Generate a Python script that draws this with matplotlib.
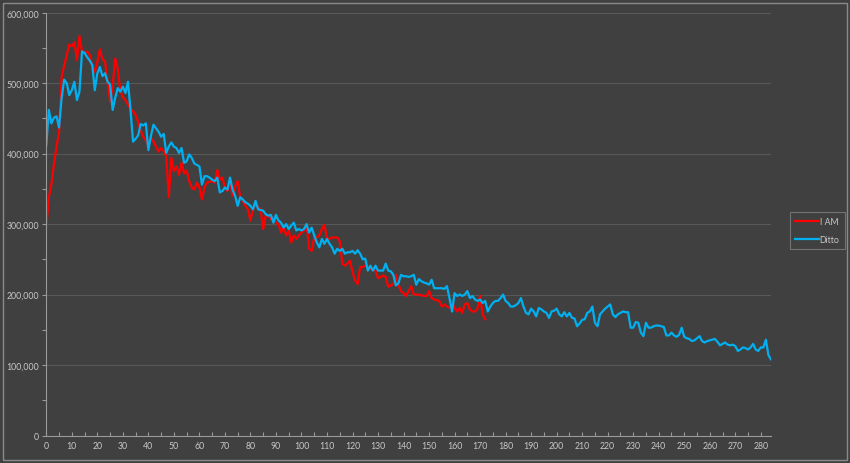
import numpy as np
import matplotlib
matplotlib.use("Agg")
import matplotlib.pyplot as plt
from matplotlib.ticker import FuncFormatter, MultipleLocator

series_names = ["I AM", "Ditto"]

# values in thousands
i_am_k = [
    296, 338, 357, 385, 410, 430, 508, 525, 540, 555,
    552, 558, 533, 567, 545, 543, 545, 540, 525, 516,
    530, 548, 534, 531, 502, 474, 495, 535, 520, 490,
    480, 476, 470, 464, 460, 455, 445, 433, 424, 419,
    412, 422, 417, 410, 403, 408, 404, 396, 338, 394,
    375, 382, 370, 387, 372, 376, 361, 352, 349, 359,
    352, 335, 352, 359, 360, 361, 359, 377, 363, 366,
    352, 347, 363, 340, 354, 361, 338, 333, 326, 321,
    305, 321, 328, 324, 321, 293, 312, 312, 307, 310,
    302, 300, 288, 295, 284, 291, 274, 284, 279, 284,
    288, 291, 300, 265, 262, 281, 281, 284, 293, 299,
    279, 279, 281, 281, 281, 276, 244, 241, 244, 248,
    232, 220, 215, 239, 239, 241, 237, 237, 237, 234,
    223, 225, 227, 225, 211, 213, 215, 228, 214, 205,
    202, 198, 205, 212, 200, 200, 200, 199, 198, 198,
    205, 195, 193, 192, 191, 183, 186, 183, 181, 188,
    181, 176, 181, 174, 186, 188, 179, 176, 176, 180,
    198, 172, 165,
]

ditto_k = [
    412, 462, 443, 451, 453, 437, 479, 505, 500, 483,
    490, 502, 476, 488, 545, 543, 537, 532, 526, 490,
    514, 523, 510, 514, 502, 498, 462, 479, 493, 488,
    495, 486, 502, 462, 417, 421, 426, 442, 440, 443,
    405, 425, 441, 436, 431, 424, 428, 401, 410, 416,
    410, 408, 401, 408, 387, 389, 399, 394, 386, 384,
    382, 356, 368, 368, 366, 363, 361, 366, 345, 347,
    352, 349, 366, 349, 340, 326, 338, 335, 331, 329,
    326, 321, 333, 321, 320, 319, 314, 312, 313, 302,
    313, 305, 302, 295, 300, 293, 298, 302, 291, 293,
    291, 293, 300, 288, 295, 284, 274, 267, 279, 272,
    279, 272, 267, 258, 265, 262, 265, 258, 260, 260,
    262, 258, 263, 258, 250, 251, 234, 241, 234, 241,
    234, 234, 234, 244, 234, 233, 228, 213, 216, 228,
    226, 226, 225, 226, 228, 214, 222, 219, 217, 216,
    214, 221, 209, 209, 209, 209, 208, 212, 195, 176,
    202, 198, 200, 198, 200, 205, 195, 198, 193, 191,
    193, 188, 191, 176, 183, 188, 191, 191, 195, 200,
    191, 188, 183, 183, 185, 188, 195, 183, 174, 172,
    180, 176, 169, 181, 179, 176, 174, 167, 176, 177,
    180, 172, 169, 175, 169, 174, 167, 166, 155, 159,
    164, 165, 174, 176, 183, 160, 155, 172, 176, 180,
    183, 186, 172, 168, 172, 174, 176, 175, 175, 153,
    153, 161, 160, 146, 141, 160, 153, 153, 155, 156,
    156, 155, 154, 142, 142, 146, 142, 140, 143, 153,
    140, 138, 137, 134, 135, 138, 141, 134, 132, 134,
    135, 136, 137, 133, 128, 130, 132, 129, 128, 129,
    127, 120, 122, 125, 124, 122, 125, 130, 122, 120,
    125, 125, 136, 114, 108,
]

x_ticks = list(range(0, 281, 10))
y_ticks = [0, 100000, 200000, 300000, 400000, 500000, 600000]

i_am = np.array(i_am_k) * 1000
ditto = np.array(ditto_k) * 1000

BG = "#404040"
TXT = "#c8c8c8"
AXC = "#9a9a9a"
GRID = "#585858"

plt.rcParams['font.family'] = ['Lato', 'DejaVu Sans']

fig = plt.figure(figsize=(8.5, 4.64), dpi=100, facecolor=BG)
ax = fig.add_axes([46.3 / 850, 1 - 436.5 / 464, (771 - 46.3) / 850, (436.5 - 13.7) / 464])
ax.set_facecolor(BG)

ax.plot(np.arange(len(i_am)), i_am, color="#ff0000", lw=1.6, label=series_names[0],
        solid_joinstyle="round")
ax.plot(np.arange(len(ditto)), ditto, color="#00b0f0", lw=1.6, label=series_names[1],
        solid_joinstyle="round")

ax.set_xlim(0, 284)
ax.set_ylim(0, 600000)
ax.set_xticks(x_ticks)
ax.xaxis.set_minor_locator(MultipleLocator(5))
ax.set_yticks(y_ticks)
ax.yaxis.set_minor_locator(MultipleLocator(50000))
ax.yaxis.set_major_formatter(FuncFormatter(lambda v, p: f"{int(v):,}"))

ax.grid(axis="y", which="major", color=GRID, lw=0.8)
ax.set_axisbelow(True)
for s in ["top", "right"]:
    ax.spines[s].set_visible(False)
for s in ["left", "bottom"]:
    ax.spines[s].set_color(AXC)
    ax.spines[s].set_linewidth(0.8)

ax.tick_params(axis="x", which="both", direction="in", color=AXC, length=3, width=0.8,
               labelcolor=TXT, labelsize=6.3, pad=4)
ax.tick_params(axis="y", which="both", direction="out", color=AXC, length=3, width=0.8,
               labelcolor=TXT, labelsize=6.3, pad=2)

leg = fig.legend(loc="upper left", bbox_to_anchor=(790 / 850, 1 - 213 / 464),
                 frameon=True, fancybox=False, facecolor=BG, edgecolor="#808080",
                 fontsize=6.3, labelcolor=TXT, handlelength=2.7, handletextpad=0.1,
                 borderpad=0.6, labelspacing=1.0, borderaxespad=0)
leg.get_frame().set_linewidth(0.8)

# outer border of the chart area
border = plt.Rectangle((3 / 850, 3 / 464), 844 / 850, 457 / 464, transform=fig.transFigure,
                       fill=False, edgecolor="#8a8a8a", lw=1.0)
fig.patches.append(border)

fig.savefig("out.png", dpi=100, facecolor=BG)
